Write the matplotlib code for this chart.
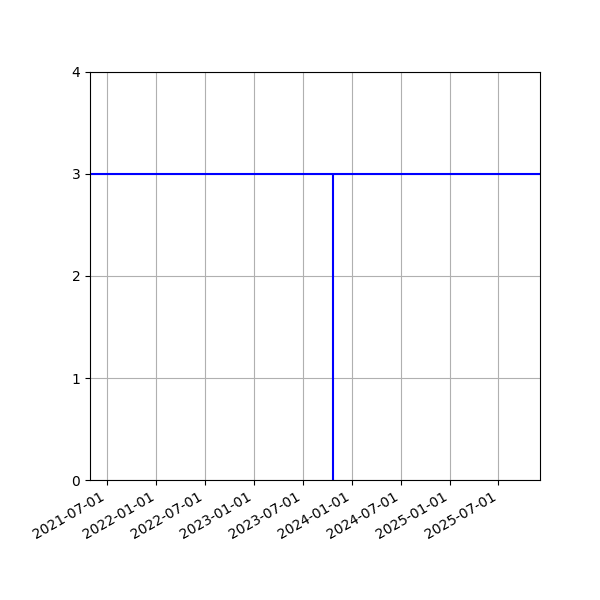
import matplotlib
matplotlib.use("Agg")
import matplotlib.pyplot as plt
import matplotlib.dates as mdates
import numpy as np
from datetime import datetime

level = [3]
event_dates = [datetime(2023, 10, 24)]
x_limits = [datetime(2021, 4, 28), datetime(2025, 12, 3)]
y_limits = [0, 4]
tick_dates = [datetime(2021, 7, 1), datetime(2022, 1, 1), datetime(2022, 7, 1),
              datetime(2023, 1, 1), datetime(2023, 7, 1), datetime(2024, 1, 1),
              datetime(2024, 7, 1), datetime(2025, 1, 1), datetime(2025, 7, 1)]

fig = plt.figure(figsize=(6, 6), dpi=100)
ax = fig.add_axes([0.15, 0.2, 0.75, 0.68])
ax.axhline(level[0], color='blue', lw=1.5)
ax.vlines(event_dates, 0, level[0], color='blue', lw=1.5)
ax.set_xlim(x_limits)
ax.set_ylim(y_limits)
ax.set_yticks([0, 1, 2, 3, 4])
ax.set_xticks(tick_dates)
ax.xaxis.set_major_formatter(mdates.DateFormatter('%Y-%m-%d'))
ax.grid(True)
for lbl in ax.get_xticklabels():
    lbl.set_rotation(30)
    lbl.set_ha('right')
fig.savefig('out.png', dpi=100)
